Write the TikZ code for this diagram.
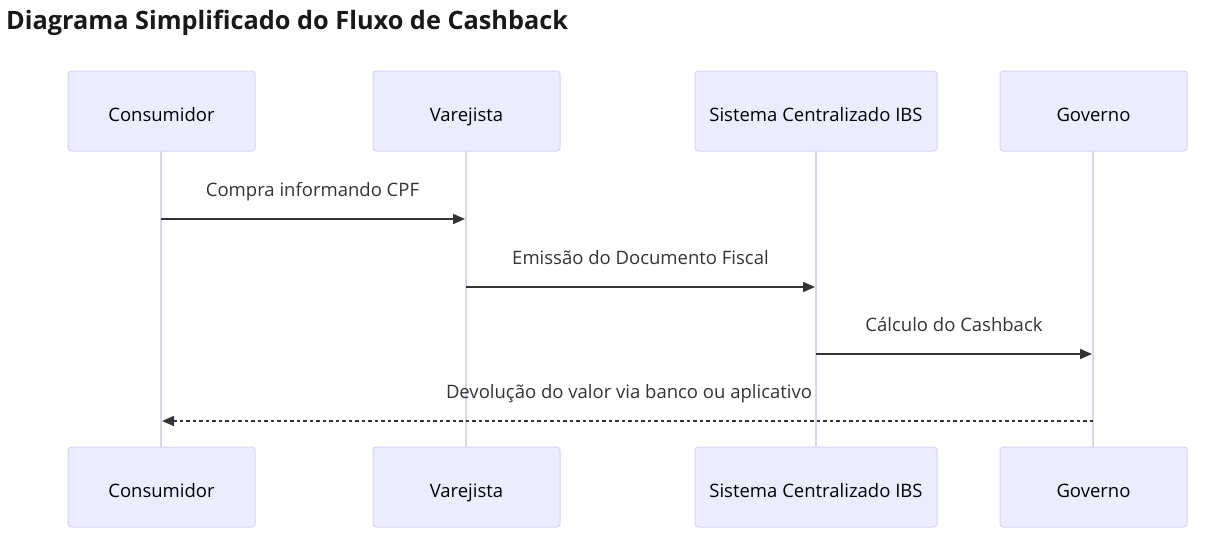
\documentclass[tikz,border=0pt]{standalone}
\usepackage{fontspec}
\setmainfont{Open Sans}
\usetikzlibrary{arrows.meta}
\definecolor{actfill}{HTML}{ECECFF}
\definecolor{actline}{HTML}{DCD2F5}
\definecolor{ink}{HTML}{333333}
\tikzset{
  actor/.style={draw=actline, fill=actfill, line width=1pt, rounded corners=3pt, minimum height=80pt, inner sep=0pt, font=\fontsize{18.5}{20}\selectfont, text=black, text height=24.5pt, text depth=3pt},
  lifeline/.style={draw=actline, line width=2pt},
  msg/.style={draw=ink, line width=1.7pt, -{Triangle[length=12pt,width=10pt]}},
  msgdash/.style={msg, dash pattern=on 3.5pt off 3pt},
  lbl/.style={font=\fontsize{18.5}{20}\selectfont, text=ink, inner sep=0pt, text height=1.45ex, text depth=0.3ex}
}
\begin{document}
\begin{tikzpicture}[x=1pt,y=-1pt]
\useasboundingbox (0,0) rectangle (1216,541);
\node[font=\bfseries\fontsize{25.3}{28}\selectfont, anchor=west, inner sep=0pt, text=black!90, text height=1.45ex, text depth=0.3ex] (title) at (6,26) {Diagrama Simplificado do Fluxo de Cashback};
% lifelines first
\coordinate (l1t) at (161,151); \coordinate (l1b) at (161,447);
\coordinate (l2t) at (466,151); \coordinate (l2b) at (466,447);
\coordinate (l3t) at (816,151); \coordinate (l3b) at (816,447);
\coordinate (l4t) at (1093,151); \coordinate (l4b) at (1093,447);
\draw[lifeline] (l1t) -- (l1b);
\draw[lifeline] (l2t) -- (l2b);
\draw[lifeline] (l3t) -- (l3b);
\draw[lifeline] (l4t) -- (l4b);
% actors
\node[actor, minimum width=187pt] (c1) at (161.5,111) {Consumidor};
\node[actor, minimum width=187pt] (v1) at (466.5,111) {Varejista};
\node[actor, minimum width=242pt] (s1) at (816,111) {Sistema Centralizado IBS};
\node[actor, minimum width=187pt] (g1) at (1093.5,111) {Governo};
\node[actor, minimum width=187pt] (c2) at (161.5,487) {Consumidor};
\node[actor, minimum width=187pt] (v2) at (466.5,487) {Varejista};
\node[actor, minimum width=242pt] (s2) at (816,487) {Sistema Centralizado IBS};
\node[actor, minimum width=187pt] (g2) at (1093.5,487) {Governo};
% messages
\coordinate (a1s) at (161,219); \coordinate (a1e) at (465,219);
\coordinate (a2s) at (466,287); \coordinate (a2e) at (815,287);
\coordinate (a3s) at (816,354); \coordinate (a3e) at (1092,354);
\coordinate (a4s) at (1093,421); \coordinate (a4e) at (162,421);
\draw[msg] (a1s) -- (a1e);
\draw[msg] (a2s) -- (a2e);
\draw[msg] (a3s) -- (a3e);
\draw[msgdash] (a4s) -- (a4e);
\node[lbl] (m1) at (312.5,193) {Compra informando CPF};
\node[lbl] (m2) at (640.5,261) {Emissão do Documento Fiscal};
\node[lbl] (m3) at (954,328) {Cálculo do Cashback};
\node[lbl] (m4) at (629,395) {Devolução do valor via banco ou aplicativo};
\end{tikzpicture}
\end{document}
